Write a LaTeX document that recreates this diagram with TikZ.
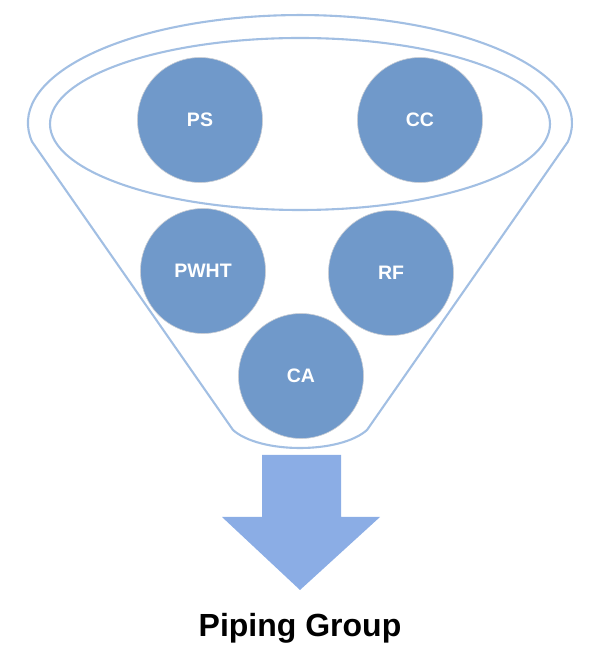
\documentclass[tikz,border=0pt]{standalone}
\usepackage{fontspec}
\setmainfont{Liberation Sans}
\definecolor{funnelline}{HTML}{A2BFE3}
\definecolor{ballfill}{HTML}{7099CA}
\definecolor{ballrim}{HTML}{C9CDD4}
\definecolor{arrowfill}{HTML}{8BADE5}
\begin{document}
\begin{tikzpicture}[x=1pt,y=1pt,
  funnel/.style={draw=funnelline,line width=2.1pt,line join=round},
  ball/.style={circle,fill=ballfill,draw=ballrim,line width=0.6pt,minimum size=125pt,inner sep=0pt,
    text=white,font=\bfseries\fontsize{19.5}{19.5}\selectfont},
  bigarrow/.style={fill=arrowfill,draw=none},
  caption/.style={font=\bfseries\fontsize{32}{32}\selectfont,text=black}]
\useasboundingbox (0,0) rectangle (600,657);
% outer funnel outline
\draw[funnel] (233,227) -- (32.1,515.2) arc[start angle=190,end angle=-10,x radius=272pt,y radius=108pt]
  -- (367,227) .. controls (340,203) and (260,203) .. (233,227) -- cycle;
% inner rim ellipse
\draw[funnel] (300,533) ellipse[x radius=250pt,y radius=86pt];
% balls
\node[ball] (ps) at (200,537) {PS};
\node[ball] (cc) at (420,537) {CC};
\node[ball] (pwht) at (203,386) {PWHT};
\node[ball] (rf) at (391,384) {RF};
\node[ball] (ca) at (301,281) {CA};
% arrow
\coordinate (tip) at (300,67);
\fill[bigarrow] (262,202) -- (341,202) -- (341,140) -- (380,140) -- (tip) -- (222,140) -- (262,140) -- cycle;
\node[caption] (cap) at (300,29) {Piping Group};
\end{tikzpicture}
\end{document}
